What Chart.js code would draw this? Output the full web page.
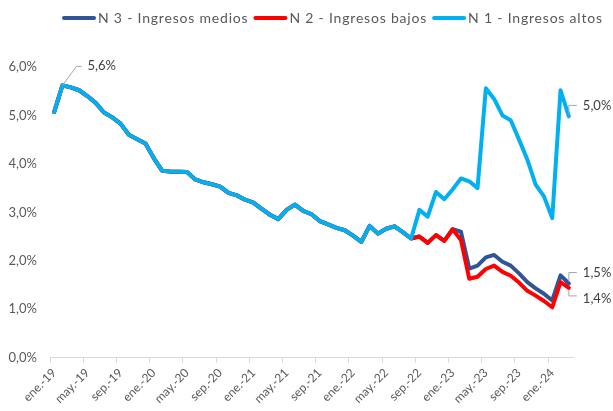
<!DOCTYPE html>
<html lang="es">
<head>
<meta charset="utf-8">
<script src="https://cdn.jsdelivr.net/npm/chart.js@4.4.1/dist/chart.umd.min.js"></script>
<style>
  html, body { margin: 0; padding: 0; background: #fff; }
  #grafico { display: block; }
</style>
</head>
<body>
<canvas id="grafico" width="613" height="411"></canvas>
<script>
// meses de ene-19 a mar-24
const meses = [
  "ene.-19", "feb.-19", "mar.-19", "abr.-19", "may.-19", "jun.-19", "jul.-19", "ago.-19", "sep.-19", "oct.-19", "nov.-19", "dic.-19",
  "ene.-20", "feb.-20", "mar.-20", "abr.-20", "may.-20", "jun.-20", "jul.-20", "ago.-20", "sep.-20", "oct.-20", "nov.-20", "dic.-20",
  "ene.-21", "feb.-21", "mar.-21", "abr.-21", "may.-21", "jun.-21", "jul.-21", "ago.-21", "sep.-21", "oct.-21", "nov.-21", "dic.-21",
  "ene.-22", "feb.-22", "mar.-22", "abr.-22", "may.-22", "jun.-22", "jul.-22", "ago.-22", "sep.-22", "oct.-22", "nov.-22", "dic.-22",
  "ene.-23", "feb.-23", "mar.-23", "abr.-23", "may.-23", "jun.-23", "jul.-23", "ago.-23", "sep.-23", "oct.-23", "nov.-23", "dic.-23",
  "ene.-24", "feb.-24", "mar.-24"
];

// hasta ago-22 las tres series coinciden
const tramoComun = [
  5.07, 5.62, 5.58, 5.52, 5.40, 5.26, 5.06, 4.96, 4.83, 4.60, 4.51, 4.42,
  4.12, 3.86, 3.84, 3.84, 3.83, 3.68, 3.62, 3.58, 3.53, 3.40, 3.35, 3.26,
  3.20, 3.07, 2.95, 2.86, 3.05, 3.16, 3.03, 2.96, 2.82, 2.75, 2.68, 2.63,
  2.52, 2.39, 2.72, 2.56, 2.66, 2.71, 2.59, 2.46
];

// sep-22 a mar-24
const finalMedios = [2.50, 2.37, 2.53, 2.41, 2.65, 2.60, 1.84, 1.90, 2.07, 2.12, 1.98, 1.90, 1.74, 1.56, 1.43, 1.32, 1.18, 1.70, 1.53];
const finalBajos  = [2.50, 2.37, 2.53, 2.41, 2.65, 2.43, 1.63, 1.67, 1.83, 1.90, 1.77, 1.69, 1.55, 1.38, 1.28, 1.17, 1.04, 1.56, 1.44];
const finalAltos  = [3.05, 2.91, 3.42, 3.27, 3.47, 3.70, 3.64, 3.50, 5.56, 5.34, 5.00, 4.90, 4.50, 4.09, 3.57, 3.33, 2.88, 5.52, 4.98];

const medios = tramoComun.concat(finalMedios);
const bajos = tramoComun.concat(finalBajos);
const altos = tramoComun.concat(finalAltos);

const colorTexto = "#595959";
const fuente = "Lato, 'Open Sans', sans-serif";

const fmt = (v) => v.toFixed(1).replace(".", ",") + "%";

// qué puntos llevan etiqueta (serie, índice, lado)
const etiquetas = [
  { serie: 2, idx: 1, tipo: "pico" },
  { serie: 2, idx: meses.length - 1, tipo: "arriba" },
  { serie: 0, idx: meses.length - 1, tipo: "arriba" },
  { serie: 1, idx: meses.length - 1, tipo: "abajo" }
];

// leyenda dibujada a mano, pegada a la muestra como en Excel
const leyenda = {
  id: "leyenda",
  afterDraw(chart) {
    const ctx = chart.ctx;
    ctx.save();
    ctx.font = "14px " + fuente;
    ctx.letterSpacing = "0.8px";
    ctx.textBaseline = "middle";
    ctx.textAlign = "left";
    let x = 62;
    const y = 18;
    chart.data.datasets.forEach((ds) => {
      ctx.strokeStyle = ds.borderColor;
      ctx.lineWidth = 4;
      ctx.lineCap = "round";
      ctx.beginPath();
      ctx.moveTo(x + 2, y);
      ctx.lineTo(x + 32, y);
      ctx.stroke();
      ctx.fillStyle = colorTexto;
      ctx.fillText(ds.label, x + 36, y);
      x += 36 + ctx.measureText(ds.label).width + 5;
    });
    ctx.restore();
  }
};

const rotulos = {
  id: "rotulos",
  afterDatasetsDraw(chart) {
    const ctx = chart.ctx;
    ctx.save();
    ctx.strokeStyle = "#a6a6a6";
    ctx.lineWidth = 1;
    ctx.fillStyle = "#404040";
    ctx.font = "13px " + fuente;
    ctx.textBaseline = "middle";
    ctx.textAlign = "left";
    etiquetas.forEach((e) => {
      const p = chart.getDatasetMeta(e.serie).data[e.idx];
      const valor = chart.data.datasets[e.serie].data[e.idx];
      const x = p.x, y = p.y;
      ctx.beginPath();
      let tx, ty;
      if (e.tipo === "pico") {
        ctx.moveTo(x, y);
        ctx.lineTo(x + 14, y - 19);
        ctx.lineTo(x + 19, y - 19);
        tx = x + 25; ty = y - 20;
      } else if (e.tipo === "arriba") {
        ctx.moveTo(x, y - 2);
        ctx.lineTo(x, y - 11);
        ctx.lineTo(x + 8, y - 11);
        tx = x + 14; ty = y - 11;
      } else {
        ctx.moveTo(x, y + 2);
        ctx.lineTo(x, y + 8);
        ctx.lineTo(x + 8, y + 8);
        tx = x + 14; ty = y + 11;
      }
      ctx.stroke();
      ctx.fillText(fmt(valor), tx, ty);
    });
    ctx.restore();
  }
};

const serie = (nombre, datos, color, orden) => ({
  label: nombre,
  data: datos,
  borderColor: color,
  backgroundColor: color,
  borderWidth: 4,
  pointRadius: 0,
  pointHoverRadius: 0,
  tension: 0,
  borderJoinStyle: "round",
  borderCapStyle: "round",
  order: orden
});

new Chart(document.getElementById("grafico"), {
  type: "line",
  data: {
    labels: meses,
    datasets: [
      serie("N 3 - Ingresos medios", medios, "#2F5597", 3),
      serie("N 2 - Ingresos bajos", bajos, "#FF0000", 2),
      serie("N 1 - Ingresos altos", altos, "#00B0F0", 1)
    ]
  },
  options: {
    responsive: false,
    animation: false,
    layout: { padding: { top: 67, right: 40, bottom: 2, left: 0 } },
    plugins: {
      tooltip: { enabled: false },
      legend: { display: false }
    },
    scales: {
      x: {
        offset: true,
        grid: {
          offset: true,
          drawOnChartArea: false,
          drawTicks: true,
          tickLength: 5,
          color: (c) => (c.index % 4 === 0 ? "#d9d9d9" : "rgba(0,0,0,0)")
        },
        border: { color: "#d9d9d9", width: 1 },
        ticks: {
          autoSkip: false,
          maxRotation: 45,
          minRotation: 45,
          color: colorTexto,
          font: { family: fuente, size: 12 },
          callback: (v, i) => (i % 4 === 0 ? meses[i] : "")
        }
      },
      y: {
        min: 0,
        max: 6,
        afterFit: (s) => { s.width = 50; },
        grid: { display: false },
        border: { display: false },
        ticks: {
          stepSize: 1,
          padding: 5,
          color: colorTexto,
          font: { family: fuente, size: 13 },
          callback: (v) => fmt(v)
        }
      }
    }
  },
  plugins: [leyenda, rotulos]
});
</script>
</body>
</html>
